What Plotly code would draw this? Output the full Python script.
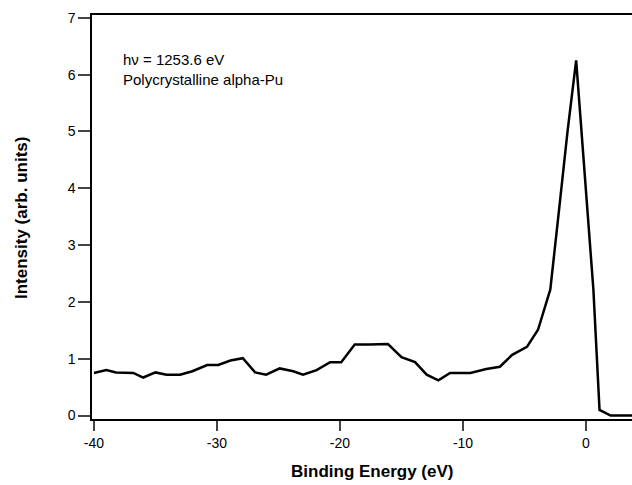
import plotly.graph_objects as go

energy = [-40.0, -39.0, -38.2, -36.8, -36.0, -35.0, -34.1, -33.0, -32.0, -30.8, -29.9,
          -28.9, -27.9, -26.9, -26.0, -24.9, -23.8, -23.0, -21.9, -20.8, -19.9, -18.8,
          -17.6, -16.1, -15.0, -13.9, -12.95, -12.0, -11.05, -9.4, -8.1, -7.0, -6.0,
          -4.8, -3.9, -2.9, -2.1, -1.5, -0.8, 0.3, 0.6, 1.1, 2.0, 3.74]
intensity = [0.75, 0.80, 0.76, 0.75, 0.67, 0.76, 0.72, 0.72, 0.78, 0.89, 0.89,
             0.97, 1.01, 0.76, 0.72, 0.83, 0.78, 0.72, 0.80, 0.94, 0.94, 1.25,
             1.25, 1.26, 1.03, 0.94, 0.72, 0.62, 0.75, 0.75, 0.82, 0.86, 1.07,
             1.21, 1.51, 2.22, 3.8, 5.0, 6.25, 2.96, 2.22, 0.10, 0.0, 0.0]
x_ticks = [-40, -30, -20, -10, 0]
x_tick_labels = ["-40", "-30", "-20", "-10", "0"]
y_ticks = [0, 1, 2, 3, 4, 5, 6, 7]

W, H = 632, 485
L, R, T, B = 92, 0, 15, 66
pw, ph = W - L - R, H - T - B

fig = go.Figure()
fig.add_trace(go.Scatter(x=energy, y=intensity, mode="lines",
                         line=dict(color="black", width=2.5), showlegend=False))

font = "Liberation Sans, Arial, sans-serif"
fig.update_layout(
    width=W, height=H,
    margin=dict(l=L, r=R, t=T, b=B, autoexpand=False),
    paper_bgcolor="white", plot_bgcolor="white",
    font=dict(family=font, color="black", size=14),
    xaxis=dict(range=[-40.16, 3.74], tickvals=x_ticks, ticktext=x_tick_labels,
               ticks="outside", ticklen=10, automargin=False,
               tickwidth=1.5, showline=True, linecolor="black", linewidth=1.5,
               mirror=True, showgrid=False, zeroline=False),
    yaxis=dict(range=[-0.06, 7.05], tickvals=y_ticks, ticks="outside", ticklen=12,
               automargin=False,
               tickwidth=1.5, showline=True, linecolor="black", linewidth=1.5,
               showgrid=False, zeroline=False),
)
fig.add_annotation(x=(121 - L) / pw, y=1 - (49 - T) / ph, xref="paper", yref="paper",
                   text="hν = 1253.6 eV<br>Polycrystalline alpha-Pu",
                   showarrow=False, xanchor="left", yanchor="top", align="left",
                   font=dict(size=15, family=font))
fig.add_annotation(x=(372 - L) / pw, y=-(471 - (H - B)) / ph, xref="paper", yref="paper",
                   text="<b>Binding Energy (eV)</b>", showarrow=False,
                   xanchor="center", yanchor="middle", font=dict(size=17, family=font))
fig.add_annotation(x=-(L - 21) / pw, y=1 - (218 - T) / ph, xref="paper", yref="paper",
                   text="<b>Intensity (arb. units)</b>", showarrow=False, textangle=-90,
                   xanchor="center", yanchor="middle", font=dict(size=17, family=font))
fig.write_html("out.html", config={"displayModeBar": False},
               post_script="document.body.style.margin='0';document.body.style.overflow='hidden';")
